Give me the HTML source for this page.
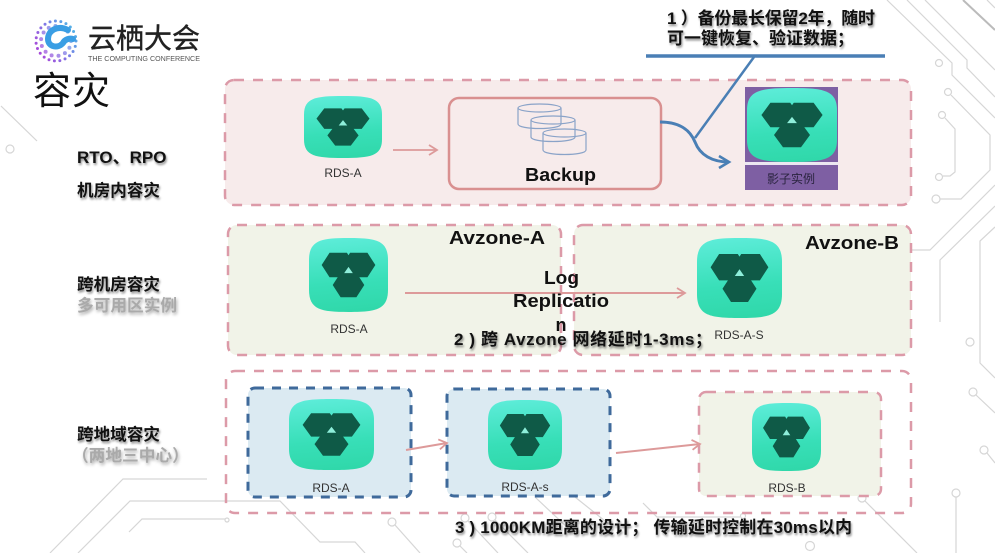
<!DOCTYPE html>
<html>
<head>
<meta charset="utf-8">
<style>
html,body{margin:0;padding:0;background:#fff;width:995px;height:553px;overflow:hidden}
svg{display:block}
text{font-family:"Liberation Sans","Noto Sans CJK SC",sans-serif}
.b{font-weight:700;font-size:17px;fill:#111;text-shadow:1px 2px 2px rgba(0,0,0,.45)}
.g{font-weight:700;font-size:16.700px;fill:#aaa;text-shadow:1px 2px 3px rgba(0,0,0,.35)}
.l{font-size:12px;fill:#333;text-anchor:middle}
.e{font-weight:700;font-size:18px;fill:#111}
</style>
</head>
<body>
<svg width="995" height="553" viewBox="0 0 995 553" xmlns="http://www.w3.org/2000/svg">
<defs>
<linearGradient id="ig" x1="0.4" y1="0" x2="0.5" y2="1"><stop offset="0" stop-color="#5cecd8"/><stop offset="0.6" stop-color="#38dfb8"/><stop offset="1" stop-color="#30d8aa"/></linearGradient>
<linearGradient id="lg" gradientUnits="userSpaceOnUse" x1="34" y1="55" x2="78" y2="25"><stop offset="0" stop-color="#b23fd6"/><stop offset="0.5" stop-color="#7f78e6"/><stop offset="1" stop-color="#45c0e6"/></linearGradient>
<symbol id="icon" viewBox="0 0 100 100" preserveAspectRatio="none">
<path d="M50 0C85 0 100 3 100 30V70C100 97 85 100 50 100C15 100 0 97 0 70V30C0 3 15 0 50 0Z" fill="url(#ig)"/>
<path d="M16 36.500L26 20H48L58 36.500L48 53H26Z M42 36.500L52 20H74L84 36.500L74 53H52Z M30 63.500L40 47H60L70 63.500L60 80H40Z" fill="#0f5a47"/>
<path d="M50 39L44.500 47.500H55.500Z" fill="#8eeeda"/>
</symbol>
<marker id="pa" markerWidth="12" markerHeight="12" refX="10" refY="6" orient="auto" markerUnits="userSpaceOnUse"><path d="M2 1L10 6L2 11" fill="none" stroke="#dd9a9a" stroke-width="1.800"/></marker>
<marker id="ba" markerWidth="16" markerHeight="16" refX="12" refY="8" orient="auto" markerUnits="userSpaceOnUse"><path d="M2 2L12 8L2 14" fill="none" stroke="#4a7fb5" stroke-width="2.600"/></marker>
</defs>

<!-- circuit background -->
<g fill="none" stroke="#d6d6d6" stroke-width="1.200">
<path d="M1 106L37 141"/><circle cx="10" cy="149" r="4"/>
<path d="M887 0L952 63V75L995 118"/>
<path d="M907 0L967 60V68L995 97"/>
<path d="M925 0L995 70"/>
<path d="M963 0L995 30" stroke="#bbb" stroke-width="2"/>
<path d="M987 0L995 8"/>
<circle cx="939" cy="63" r="3.500"/>
<circle cx="948" cy="92" r="3.500"/>
<path d="M951 95L990 135V170L961 199H940"/><circle cx="936" cy="199" r="4"/>
<circle cx="942" cy="115" r="3.500"/>
<path d="M945 118L955 129V172L950 176H943"/><circle cx="939" cy="177" r="3.500"/>
<path d="M910 250H930L995 185"/>
<path d="M940 322V260L995 206"/>
<path d="M995 227L980 241V363L995 378"/>
<circle cx="970" cy="342" r="4"/>
<circle cx="973" cy="392" r="4"/><path d="M976 395L995 413"/>
<circle cx="984" cy="450" r="4"/><path d="M987 453L995 463"/>
<circle cx="956" cy="493" r="4"/><path d="M956 497V553"/>
<circle cx="862" cy="498" r="4"/><path d="M865 501L917 553"/>
<circle cx="810" cy="546" r="4.500"/>
<path d="M643 503L657 517H740"/><circle cx="743" cy="516" r="2.500"/>
<path d="M50 553L123 479H207"/>
<path d="M78 553L130 501H280L320 542H355L365 553"/>
<path d="M129 532L142 519H225"/><circle cx="227" cy="520" r="2"/>
<circle cx="392" cy="522" r="4"/><path d="M395 525L420 553"/>
<circle cx="465" cy="518" r="4"/><path d="M468 521L498 553"/>
<circle cx="492" cy="517" r="4"/><path d="M495 520L528 553"/>
<circle cx="457" cy="543" r="4"/><path d="M460 546L467 553"/>
<path d="M535 497L570 530"/><path d="M575 497L610 525"/>
</g>

<!-- logo -->
<g>
<circle cx="56" cy="41" r="20" fill="none" stroke="url(#lg)" stroke-width="3" stroke-linecap="round" stroke-dasharray="0 5.500"/>
<circle cx="56" cy="41" r="15" fill="none" stroke="url(#lg)" stroke-width="4" stroke-linecap="round" stroke-dasharray="0 7" opacity=".75"/>
<path d="M68 30C58 25 48 30 48 39C48 47 58 49 63 43C65 39 70 38 73 39" fill="none" stroke="#3a9ee4" stroke-width="6" stroke-linecap="round"/>
<text x="88" y="48" font-size="28" fill="#222" stroke="#222" stroke-width=".4" textLength="112">云栖大会</text>
<text x="88" y="61" font-size="7.500" fill="#555" textLength="112" lengthAdjust="spacingAndGlyphs">THE COMPUTING CONFERENCE</text>
</g>
<text x="33" y="104" font-size="38" fill="#111" textLength="77">容灾</text>

<!-- left labels -->
<text class="b" x="77" y="163">RTO、RPO</text>
<text class="b" x="77" y="196" style="font-size:16.600px">机房内容灾</text>
<text class="b" x="77" y="290" style="font-size:16.600px">跨机房容灾</text>
<text class="g" x="77" y="311">多可用区实例</text>
<text class="b" x="77" y="440" style="font-size:16.600px">跨地域容灾</text>
<text class="g" x="72" y="461">（两地三中心）</text>

<!-- panels -->
<g stroke="#dc9aa8" stroke-width="2.500" stroke-dasharray="10 9">
<rect x="225" y="80" width="686" height="125" rx="9" fill="#f7ebeb"/>
<rect x="228" y="225" width="333" height="130" rx="9" fill="#f1f3e8"/>
<rect x="574" y="225" width="337" height="130" rx="9" fill="#f1f3e8"/>
<rect x="226" y="371" width="685" height="142" rx="9" fill="none"/>
<rect x="699" y="392" width="182" height="104" rx="7" fill="#f1f3e8"/>
</g>
<g stroke="#3f6a9b" stroke-width="3" stroke-dasharray="9 8" fill="#dbeaf2">
<rect x="248" y="388" width="163" height="109" rx="7"/>
<rect x="447" y="389" width="163" height="107" rx="7"/>
</g>

<!-- row 1 -->
<use href="#icon" x="304" y="96" width="78" height="62"/>
<text class="l" x="343" y="177">RDS-A</text>
<path d="M393 150H437" stroke="#dd9a9a" stroke-width="1.800" fill="none" marker-end="url(#pa)"/>
<rect x="449" y="98" width="212" height="91" rx="10" fill="#f7ebeb" stroke="#d99090" stroke-width="2.500"/>
<g fill="none" stroke="#8aa3c8" stroke-width="1.200">
<path d="M518 108V124C518 130 561 130 561 124V108"/><ellipse cx="539.500" cy="108" rx="21.500" ry="4"/>
<path d="M531 120V137C531 143 575 143 575 137V120"/><ellipse cx="553" cy="120" rx="22" ry="4"/>
<path d="M543 133V150C543 156 586 156 586 150V133"/><ellipse cx="564.500" cy="133" rx="21.500" ry="4"/>
</g>
<text class="e" x="525" y="181" textLength="71" lengthAdjust="spacingAndGlyphs">Backup</text>
<rect x="745" y="87" width="93" height="103" fill="#7e5fa3"/>
<rect x="745" y="162" width="93" height="3" fill="#fff" opacity=".85"/>
<use href="#icon" x="747" y="88" width="90" height="74"/>
<text x="791" y="183" font-size="12" fill="#2b2440" text-anchor="middle">影子实例</text>
<path d="M660 122C680 122 690 130 695 142C700 155 712 162 729 162" fill="none" stroke="#4a7fb5" stroke-width="3" marker-end="url(#ba)"/>
<path d="M646 56H885" stroke="#4a7fb5" stroke-width="3.500"/>
<path d="M754 57L695 138" stroke="#4a7fb5" stroke-width="2.500"/>
<text class="b" x="667" y="24" textLength="208">1 ）备份最长保留2年，随时</text>
<text class="b" x="667" y="44">可一键恢复、验证数据；</text>

<!-- row 2 -->
<use href="#icon" x="309" y="238" width="79" height="74"/>
<text class="l" x="349" y="333">RDS-A</text>
<use href="#icon" x="697" y="238" width="85" height="80"/>
<text class="l" x="739" y="339">RDS-A-S</text>
<path d="M405 293H685" stroke="#dd9a9a" stroke-width="2" fill="none" marker-end="url(#pa)"/>
<text class="e" x="449" y="244" textLength="96" lengthAdjust="spacingAndGlyphs">Avzone-A</text>
<text class="e" x="805" y="249" textLength="94" lengthAdjust="spacingAndGlyphs">Avzone-B</text>
<text class="e" x="544" y="284" textLength="35" lengthAdjust="spacingAndGlyphs">Log</text>
<text class="e" x="513" y="307" textLength="96" lengthAdjust="spacingAndGlyphs">Replicatio</text>
<text class="e" x="561" y="331" text-anchor="middle">n</text>
<text class="b" x="454" y="345" textLength="258">2 ) 跨 Avzone 网络延时1-3ms；</text>

<!-- row 3 -->
<use href="#icon" x="289" y="399" width="85" height="71"/>
<text class="l" x="331" y="492">RDS-A</text>
<use href="#icon" x="488" y="400" width="74" height="70"/>
<text class="l" x="525" y="491">RDS-A-s</text>
<use href="#icon" x="752" y="403" width="69" height="68"/>
<text class="l" x="787" y="492">RDS-B</text>
<path d="M406 450L447 443" stroke="#dd9a9a" stroke-width="2" fill="none" marker-end="url(#pa)"/>
<path d="M616 453L700 444" stroke="#dd9a9a" stroke-width="2" fill="none" marker-end="url(#pa)"/>
<text class="b" x="455" y="533" textLength="397">3 ) 1000KM距离的设计； 传输延时控制在30ms以内</text>
</svg>
</body>
</html>
